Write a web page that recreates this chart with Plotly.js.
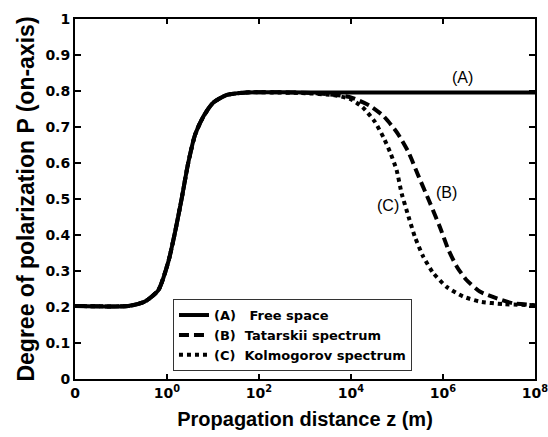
<!DOCTYPE html>
<html>
<head>
<meta charset="utf-8">
<script src="https://cdn.plot.ly/plotly-3.0.1.min.js"></script>
<style>html,body{margin:0;padding:0;background:#fff;}#chart{width:548px;height:437px;}</style>
</head>
<body>
<div id="chart"></div>
<script>
// Propagation distance z (m) and degree of polarization P
const zA = [0.01, 0.145, 0.33, 0.65, 1.07, 1.48, 2.09, 2.88, 4.07, 6.17, 10.2, 20, 54, 1000, 1e8];
const pA = [0.203, 0.203, 0.215, 0.247, 0.326, 0.405, 0.502, 0.599, 0.678, 0.729, 0.768, 0.789, 0.796, 0.796, 0.796];

const zB = [0.01, 0.145, 0.33, 0.65, 1.07, 1.48, 2.09, 2.88, 4.07, 6.17, 10.2, 20, 54, 1000, 3162, 9550, 25100, 51300, 102000, 178000, 288000, 525000, 851000, 1.32e6, 2.0e6, 3.24e6, 6.31e6, 1.48e7, 3.39e7, 7.76e7, 1e8];
const pB = [0.203, 0.203, 0.215, 0.247, 0.326, 0.405, 0.502, 0.599, 0.678, 0.729, 0.768, 0.789, 0.796, 0.795, 0.791, 0.783, 0.760, 0.730, 0.683, 0.630, 0.566, 0.488, 0.423, 0.358, 0.312, 0.275, 0.243, 0.224, 0.210, 0.206, 0.205];

const zC = [0.01, 0.145, 0.33, 0.65, 1.07, 1.48, 2.09, 2.88, 4.07, 6.17, 10.2, 20, 54, 1000, 4365, 9550, 17800, 33100, 51300, 70800, 97700, 126000, 178000, 245000, 372000, 617000, 1.2e6, 2.75e6, 6.31e6, 2.04e7, 1e8];
const pC = [0.203, 0.203, 0.215, 0.247, 0.326, 0.405, 0.502, 0.599, 0.678, 0.729, 0.768, 0.789, 0.796, 0.794, 0.788, 0.778, 0.755, 0.714, 0.670, 0.630, 0.581, 0.516, 0.451, 0.395, 0.340, 0.294, 0.256, 0.229, 0.215, 0.208, 0.205];

const seriesNames = ["(A)\u00A0\u00A0\u00A0Free space", "(B)\u00A0\u00A0Tatarskii spectrum", "(C)\u00A0\u00A0Kolmogorov spectrum"];

const xTickVals = [0.01, 1, 100, 1e4, 1e6, 1e8];
const xTickText = ["0", "10<sup>0</sup>", "10<sup>2</sup>", "10<sup>4</sup>", "10<sup>6</sup>", "10<sup>8</sup>"];
const yTickVals = [0, 0.1, 0.2, 0.3, 0.4, 0.5, 0.6, 0.7, 0.8, 0.9, 1];
const yTickText = ["0", "0.1", "0.2", "0.3", "0.4", "0.5", "0.6", "0.7", "0.8", "0.9", "1"];

const labelText = ["(A)", "(B)", "(C)"];
const labelX = [2.6e6, 1.2e6, 6.3e4];
const labelY = [0.837, 0.517, 0.483];

const FONT = "Liberation Sans, Arial, Helvetica, sans-serif";
const WIDE = "DejaVu Sans, Verdana, sans-serif";

const traces = [
  {x: zA, y: pA, name: seriesNames[0], mode: "lines", line: {color: "#000", width: 4, shape: "spline", smoothing: 0.6}},
  {x: zB, y: pB, name: seriesNames[1], mode: "lines", line: {color: "#000", width: 4, dash: "10px,5px", shape: "spline", smoothing: 0.6}},
  {x: zC, y: pC, name: seriesNames[2], mode: "lines", line: {color: "#000", width: 4, dash: "4px,4px", shape: "spline", smoothing: 0.6}}
];

const annotations = labelText.map((t, i) => ({
  x: Math.log10(labelX[i]), y: labelY[i], xref: "x", yref: "y", text: t, showarrow: false,
  font: {family: FONT, size: 16, color: "#000"}
}));

const layout = {
  width: 548, height: 437,
  margin: {l: 75, r: 13, t: 19, b: 58},
  paper_bgcolor: "#fff", plot_bgcolor: "#fff",
  font: {family: FONT, color: "#000", size: 14},
  showlegend: true,
  legend: {
    x: 0.213, y: 0.222, xanchor: "left", yanchor: "top",
    bgcolor: "#fff", bordercolor: "#333", borderwidth: 1,
    traceorder: "normal",
    font: {family: WIDE, size: 13, color: "#000", weight: "bold"},
    itemwidth: 30
  },
  xaxis: {
    type: "log", range: [-2, 8],
    tickvals: xTickVals, ticktext: xTickText,
    ticks: "inside", ticklen: 5, tickwidth: 1.5, tickcolor: "#000",
    ticklabeloverflow: "allow",
    showline: true, linecolor: "#000", linewidth: 2, mirror: "ticks",
    showgrid: false, zeroline: false,
    tickfont: {family: WIDE, size: 14, color: "#000", weight: "bold"},
    title: {text: "<b>Propagation distance z (m)</b>", font: {family: FONT, size: 20, color: "#000"}, standoff: 12}
  },
  yaxis: {
    range: [0, 1],
    tickvals: yTickVals, ticktext: yTickText,
    ticks: "inside", ticklen: 6, tickwidth: 1.5, tickcolor: "#000",
    showline: true, linecolor: "#000", linewidth: 2, mirror: "ticks",
    showgrid: false, zeroline: false,
    tickfont: {family: WIDE, size: 14, color: "#000", weight: "bold"},
    title: {text: "<b>Degree of polarization P (on-axis)</b>", font: {family: FONT, size: 23, color: "#000"}, standoff: 4}
  },
  annotations: annotations
};

Plotly.newPlot("chart", traces, layout, {staticPlot: true, displayModeBar: false});
</script>
</body>
</html>
